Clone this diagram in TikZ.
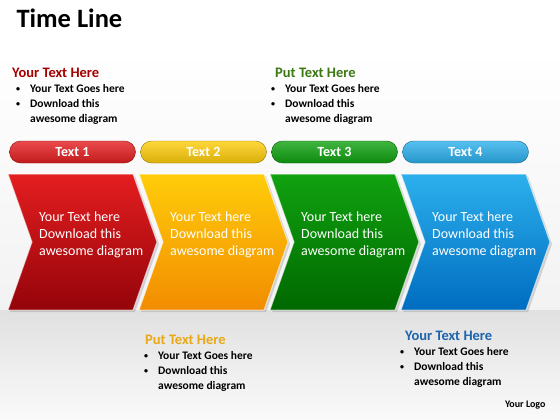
\documentclass[tikz,border=0pt]{standalone}
\usepackage{fontspec}
\setmainfont{Carlito}
\usetikzlibrary{shadows}

\definecolor{cred}{RGB}{228,30,32}
\definecolor{cdred}{RGB}{148,4,10}
\definecolor{corange}{RGB}{255,205,10}
\definecolor{cdorange}{RGB}{242,140,0}
\definecolor{cgreen}{RGB}{16,162,16}
\definecolor{cdgreen}{RGB}{0,104,0}
\definecolor{cblue}{RGB}{44,176,236}
\definecolor{cdblue}{RGB}{0,108,192}
\definecolor{hred}{RGB}{165,0,0}
\definecolor{hgreen}{RGB}{60,120,20}
\definecolor{horange}{RGB}{232,168,24}
\definecolor{hblue}{RGB}{30,100,172}

\newcommand{\smallbul}{\raisebox{1.5pt}{\fontsize{8}{8}\selectfont\textbullet}}

\begin{document}
\begin{tikzpicture}[x=1pt, y=-1pt,
  chev/.style={draw=white, draw opacity=0.6, line width=1pt,
    drop shadow={shadow xshift=2pt, shadow yshift=-2pt, opacity=0.3}},
  chevtext/.style={anchor=west, align=left, inner sep=0pt, text=white,
    font=\fontsize{14}{17}\selectfont},
  pill/.style={rounded corners=11pt, minimum width=126pt, minimum height=22pt,
    draw=#1!60!black, top color=#1!80!white, bottom color=#1!85!black, text=white,
    font=\fontsize{14}{16}\selectfont\bfseries},
  head/.style={anchor=west, inner sep=0pt, font=\fontsize{14.5}{16}\selectfont\bfseries},
  list/.style={anchor=north west, inner sep=0pt, font=\fontsize{11.5}{15}\selectfont\bfseries}]

   % background
   \fill[white] (0,0) rectangle (560,420);
   \shade[top color=white, bottom color=gray!10] (0,50) rectangle (560,310);
   \shade[top color=gray!24, bottom color=gray!4] (0,310) rectangle (560,420);
   \useasboundingbox (0,0) rectangle (560,420);

   \node[anchor=west, font=\fontsize{26.5}{30}\selectfont\bfseries] (title) at (13,18) {Time Line};

   \foreach [count=\i] \x/\c/\d in {8/cred/cdred, 139/corange/cdorange, 270/cgreen/cdgreen, 401/cblue/cdblue}
   {
     \path[chev, top color=\c, bottom color=\d]
        (\x,174) -- ++(125,0) -- ++(24,68) -- ++(-24,68) -- ++(-125,0) -- ++(24,-68) -- cycle;
     \node[chevtext] (t\i) at (\x+31,235) {Your Text here\\Download this\\awesome diagram};
     \node[pill=\c] (p\i) at (\x+64.5,152) {Text \i};
   }

   \foreach [count=\i] \hx/\hy/\bx/\c/\h in {12/73/16/hred/Your Text Here, 275/73/271/hgreen/Put Text Here,
                                             145/340/144/horange/Put Text Here, 405/336/400/hblue/Your Text Here}
   {
     \node[head, text=\c] (h\i) at (\hx,\hy) {\h};
     \node[list] (l\i) at (\bx,\hy+9) {\begin{tabular}{@{}l@{\hspace{10pt}}l@{}}
        \smallbul & Your Text Goes here\\
        \smallbul & Download this\\
                  & awesome diagram
        \end{tabular}};
   }

   \node[anchor=east, font=\fontsize{10}{12}\selectfont\bfseries] (logo) at (549,405) {Your Logo};

\end{tikzpicture}
\end{document}
